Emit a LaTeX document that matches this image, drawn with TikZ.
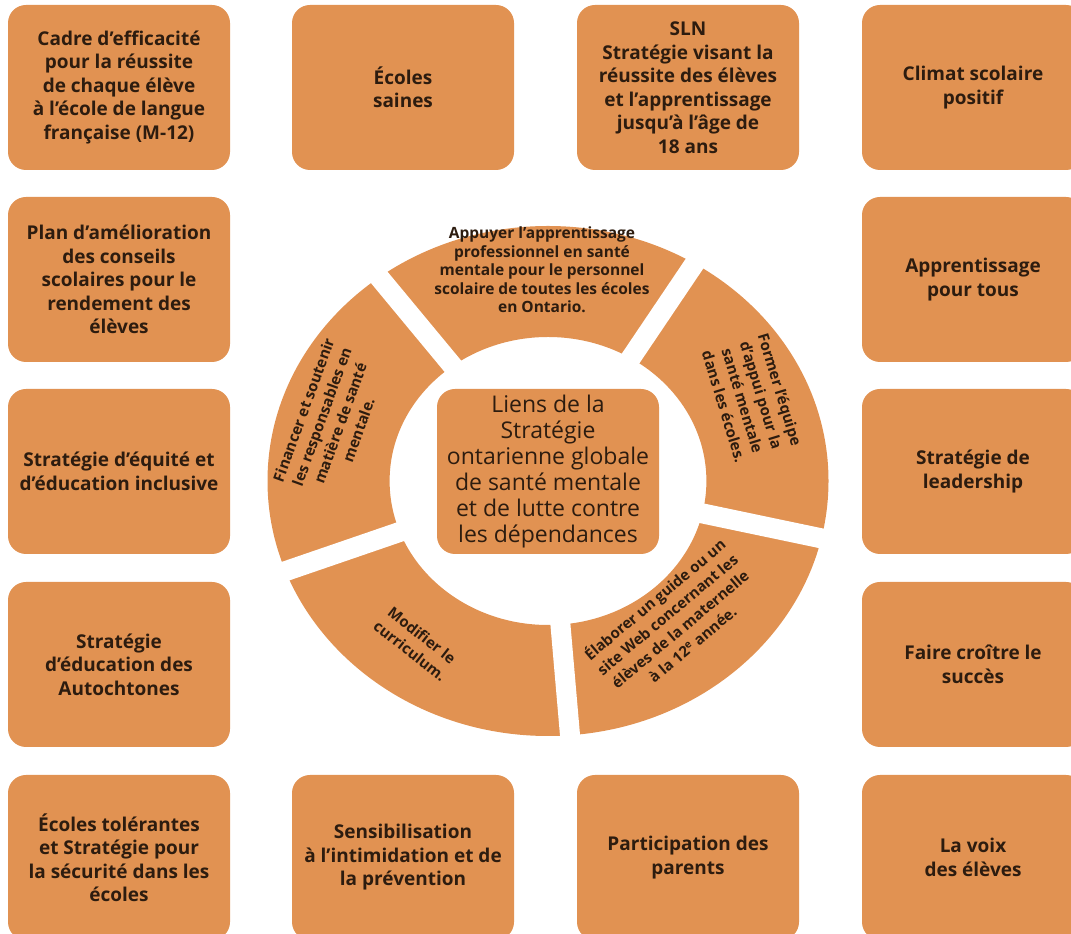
\documentclass[tikz,border=0pt]{standalone}
\usepackage{fontspec}
\setmainfont{Open Sans}
\definecolor{ocre}{RGB}{225,146,82}
\definecolor{brun}{RGB}{45,28,15}
\tikzset{
  carte/.style={fill=ocre, rounded corners=18pt, minimum width=222pt, minimum height=165pt,
    inner sep=0pt, align=center, text=brun, font=\fontsize{19}{23.5}\selectfont\bfseries},
  coeur/.style={carte, font=\fontsize{23}{26}\selectfont},
  anneau/.style={align=center, text=brun, inner sep=0pt, font=\fontsize{15}{19.5}\selectfont\bfseries},
  fente/.style={white, line width=20pt}
}
\begin{document}
\begin{tikzpicture}[x=1pt,y=1pt]
\useasboundingbox (0,0) rectangle (1071,934);
\clip (0,0) rectangle (1071,934);

\node[carte] (cadre) at (119,846.5) {Cadre d’efficacité\\pour la réussite\\de chaque élève\\à l’école de langue\\française (M-12)};
\node[carte] (saines) at (403,846.5) {Écoles\\saines};
\node[carte] (sln) at (688,846.5) {SLN\\Stratégie visant la\\réussite des élèves\\et l’apprentissage\\jusqu’à l’âge de\\18 ans};
\node[carte] (climat) at (973,846.5) {Climat scolaire\\positif};

\node[carte] (plan) at (119,654.5) {Plan d’amélioration\\des conseils\\scolaires pour le\\rendement des\\élèves};
\node[carte] (equite) at (119,462.5) {Stratégie d’équité et\\d’éducation inclusive};
\node[carte] (autochtones) at (119,269.5) {Stratégie\\d’éducation des\\Autochtones};

\node[carte] (tous) at (973,654.5) {Apprentissage\\pour tous};
\node[carte] (leadership) at (973,462.5) {Stratégie de\\leadership};
\node[carte] (succes) at (973,269.5) {Faire croître le\\succès};

\node[carte] (tolerantes) at (119,76.5) {Écoles tolérantes\\et Stratégie pour\\la sécurité dans les\\écoles};
\node[carte] (intimidation) at (403,76.5) {Sensibilisation\\à l’intimidation et de\\la prévention};
\node[carte] (parents) at (688,76.5) {Participation des\\parents};
\node[carte] (voix) at (973,76.5) {La voix\\des élèves};

\begin{scope}[shift={(548,453)}, xscale=1.1]
  \fill[ocre, even odd rule] (0,0) circle (255) (0,0) circle (144);
  \draw[fente] (58.5:120) -- (58.5:275);
  \draw[fente] (127:120) -- (127:275);
  \draw[fente] (200.7:120) -- (200.7:275);
  \draw[fente] (274.5:120) -- (274.5:275);
  \draw[fente] (347:120) -- (347:275);
\end{scope}

\node[coeur] (liens) at (548,462.5) {Liens de la\\Stratégie\\ontarienne globale\\de santé mentale\\et de lutte contre\\les dépendances};

\node[anneau, font=\fontsize{15.5}{18.5}\selectfont\bfseries] (appuyer) at (542,664) {Appuyer l’apprentissage\\professionnel en santé\\mentale pour le personnel\\scolaire de toutes les écoles\\en Ontario.};
\node[anneau, rotate=-73] (former) at (752,536) {Former l’équipe\\d’appui pour la\\santé mentale\\dans les écoles.};
\node[anneau, rotate=70] (financer) at (331,514) {Financer et soutenir\\les responsables en\\matière de santé\\mentale.};
\node[anneau, rotate=-38] (modifier) at (416,291) {Modifier le\\curriculum.};
\node[anneau, rotate=40] (elaborer) at (673,313) {Élaborer un guide ou un\\site Web concernant les\\élèves de la maternelle\\à la 12\textsuperscript{e} année.};
\end{tikzpicture}
\end{document}
